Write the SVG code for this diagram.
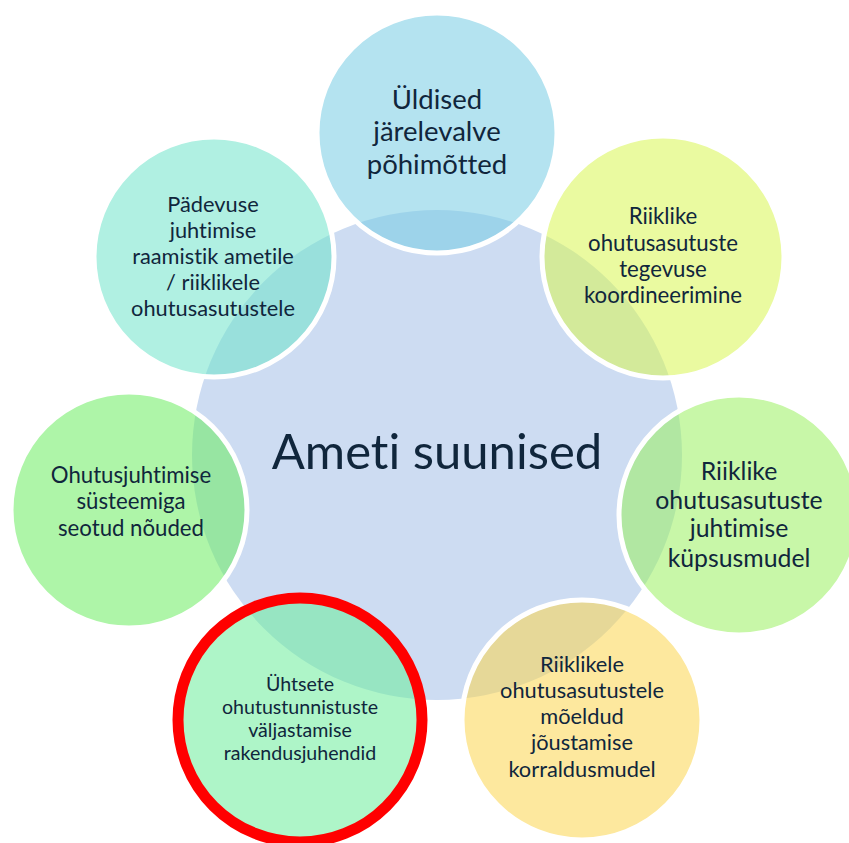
<svg xmlns="http://www.w3.org/2000/svg" width="849" height="843" viewBox="0 0 849 843">
<style>
.sat{stroke:#ffffff;stroke-width:5;fill-opacity:0.55}
.t{font-family:Lato,"Liberation Sans",sans-serif;fill:#10263c;text-anchor:middle;font-variant-ligatures:none;font-feature-settings:"liga" 0,"dlig" 0}
</style>
<rect width="849" height="843" fill="#ffffff"/>
<g id="center">
<circle cx="437" cy="455" r="245" fill="#cddcf2"/>
<text class="t" x="437" y="469" font-size="49">Ameti suunised</text>
</g>
<g id="n1">
<circle class="sat" cx="437" cy="133" r="120" fill="#77cce4"/>
<text class="t" font-size="27.5"><tspan x="437" y="109">Üldised</tspan><tspan x="437" y="141">järelevalve</tspan><tspan x="437" y="174">põhimõtted</tspan></text>
</g>
<g id="n2">
<circle class="sat" cx="663" cy="257" r="121" fill="#d9f652"/>
<text class="t" font-size="22.2"><tspan x="663" y="224">Riiklike</tspan><tspan x="663" y="251">ohutusasutuste</tspan><tspan x="663" y="277">tegevuse</tspan><tspan x="663" y="303">koordineerimine</tspan></text>
</g>
<g id="n3">
<circle class="sat" cx="739" cy="515" r="120" fill="#9bf161"/>
<text class="t" font-size="24.8"><tspan x="739" y="480">Riiklike</tspan><tspan x="739" y="509">ohutusasutuste</tspan><tspan x="739" y="537">juhtimise</tspan><tspan x="739" y="567">küpsusmudel</tspan></text>
</g>
<g id="n4">
<circle class="sat" cx="582" cy="720" r="120" fill="#fbd54f"/>
<text class="t" font-size="21.8"><tspan x="582" y="672">Riiklikele</tspan><tspan x="582" y="698">ohutusasutustele</tspan><tspan x="582" y="724">mõeldud</tspan><tspan x="582" y="750">jõustamise</tspan><tspan x="582" y="777">korraldusmudel</tspan></text>
</g>
<g id="n5">
<circle cx="300" cy="720" r="122" fill="#6ced9b" fill-opacity="0.55" stroke="#ff0000" stroke-width="11"/>
<text class="t" font-size="19.6"><tspan x="300" y="691">Ühtsete</tspan><tspan x="300" y="714">ohutustunnistuste</tspan><tspan x="300" y="737">väljastamise</tspan><tspan x="300" y="760">rakendusjuhendid</tspan></text>
</g>
<g id="n6">
<circle class="sat" cx="129" cy="510" r="118" fill="#6ced61"/>
<text class="t" font-size="22.2"><tspan x="131" y="483">Ohutusjuhtimise</tspan><tspan x="131" y="509">süsteemiga</tspan><tspan x="131" y="536">seotud nõuded</tspan></text>
</g>
<g id="n7">
<circle class="sat" cx="214" cy="257" r="120" fill="#6fe4ca"/>
<text class="t" font-size="21.8"><tspan x="213" y="212">Pädevuse</tspan><tspan x="213" y="238">juhtimise</tspan><tspan x="213" y="264">raamistik ametile</tspan><tspan x="213" y="290">/ riiklikele</tspan><tspan x="213" y="316">ohutusasutustele</tspan></text>
</g>
</svg>
